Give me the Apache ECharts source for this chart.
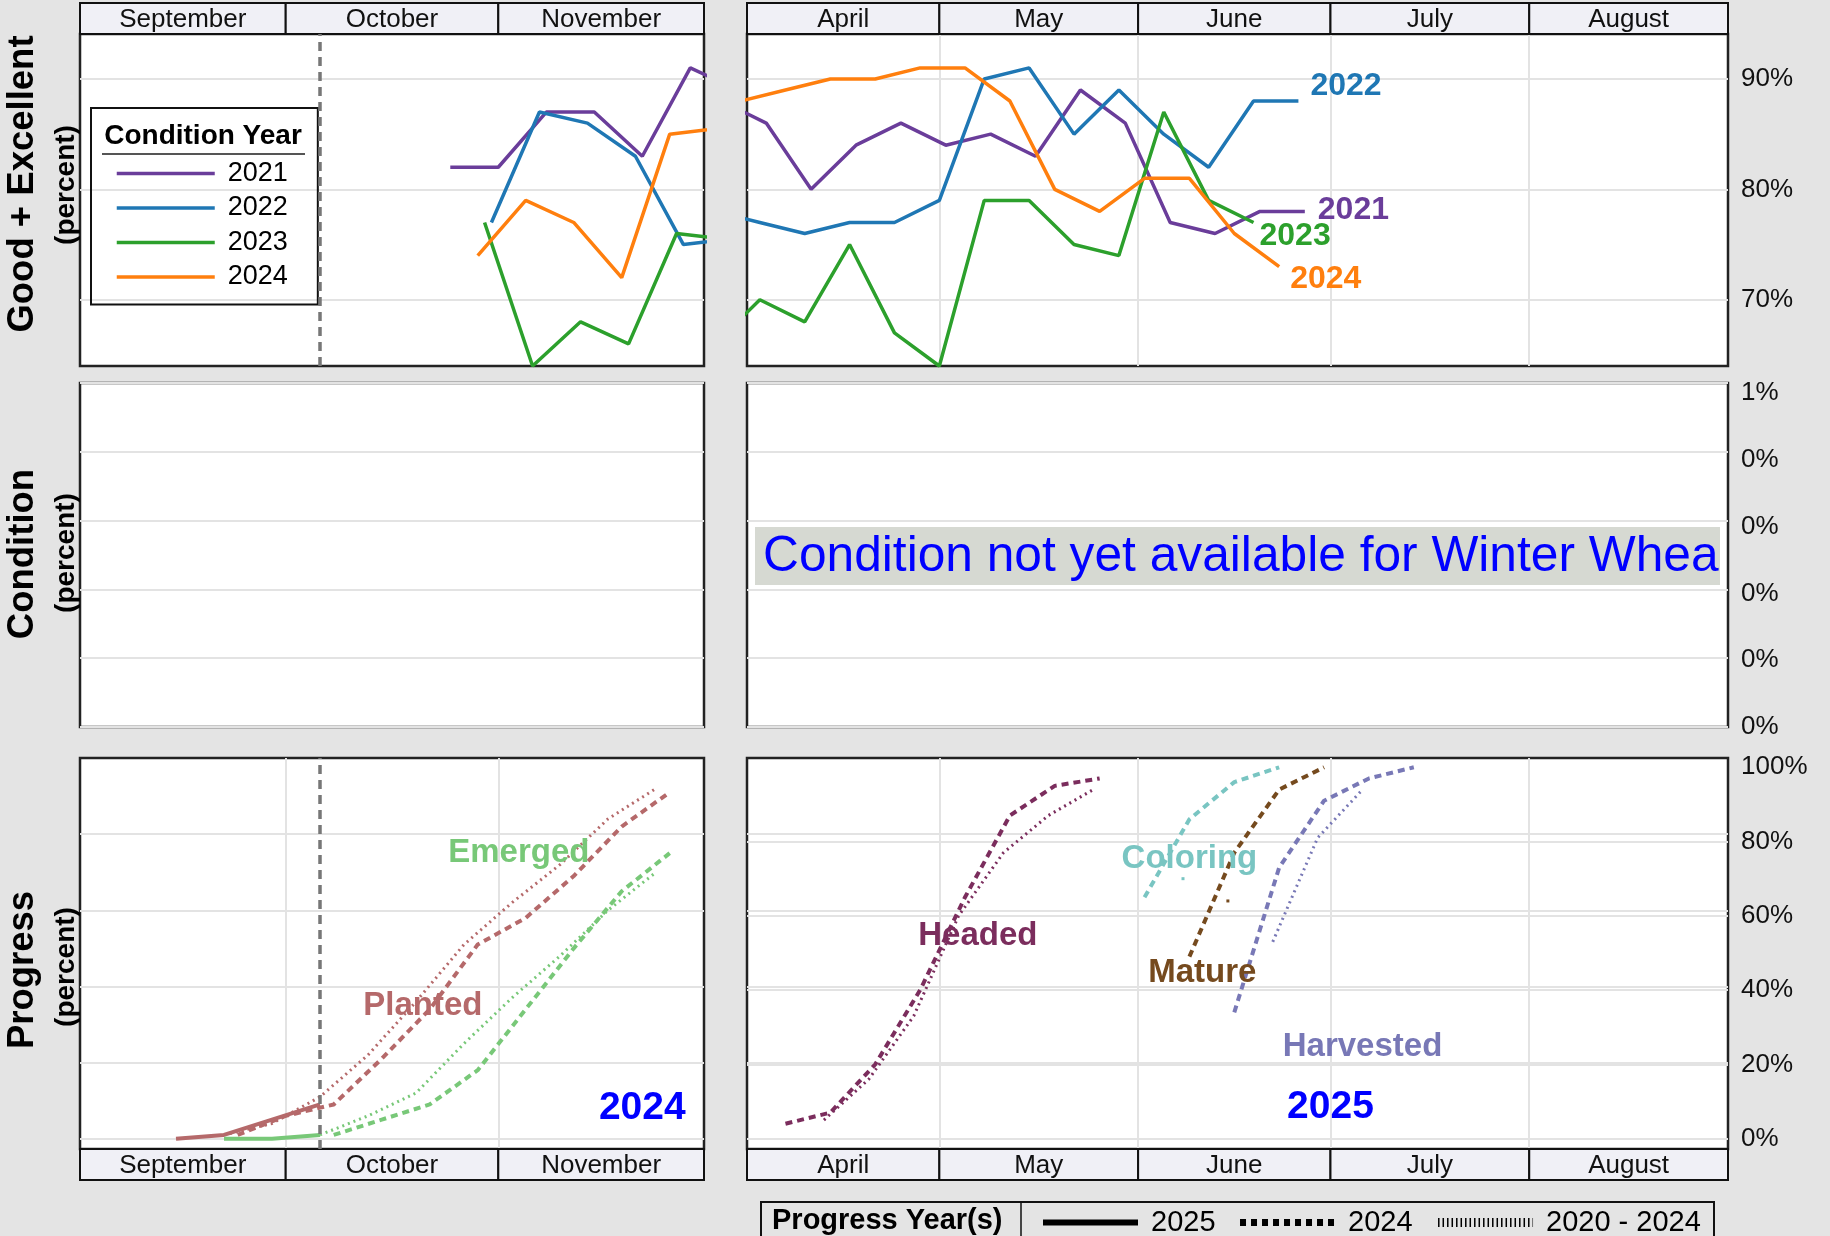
<!DOCTYPE html>
<html><head><meta charset="utf-8">
<script src="https://cdn.jsdelivr.net/npm/echarts@6/dist/echarts.min.js"></script>
<style>html,body{margin:0;padding:0;background:#e4e4e4;}#c{width:1830px;height:1236px;}</style>
</head><body><div id="c"></div>
<script>
// ---------------- DATA ----------------
const FALL_YEAR = 2024;
const SPRING_YEAR = 2025;
const fallMonths = [['09-01','10-01','September'],['10-01','11-01','October'],['11-01','12-01','November']];
const springMonths = [['04-01','05-01','April'],['05-01','06-01','May'],['06-01','07-01','June'],['07-01','08-01','July'],['08-01','09-01','August']];
const fallGridMonths = ['10-01','11-01'];
const springGridMonths = ['05-01','06-01','07-01','08-01'];
const latestWeek = '10-06';

const condYears = ['2021','2022','2023','2024'];
// Good + Excellent, fall (month-day, percent)
const geFall2021 = [['10-25',82],['11-01',82],['11-08',87],['11-15',87],['11-22',83],['11-29',91],['12-06',89]];
const geFall2022 = [['10-31',77],['11-07',87],['11-14',86],['11-21',83],['11-28',75],['12-12',76]];
const geFall2023 = [['10-30',77],['11-06',64],['11-13',68],['11-20',66],['11-27',76],['12-11',75]];
const geFall2024 = [['10-29',74],['11-05',79],['11-12',77],['11-19',72],['11-26',85],['12-10',86]];
// Good + Excellent, spring
const geSpring2021 = [['03-28',88],['04-04',86],['04-11',80],['04-18',84],['04-25',86],['05-02',84],['05-09',85],['05-16',83],['05-23',89],['05-30',86],['06-06',77],['06-13',76],['06-20',78],['06-27',78]];
const geSpring2022 = [['03-27',78],['04-03',77],['04-10',76],['04-17',77],['04-24',77],['05-01',79],['05-08',90],['05-15',91],['05-22',85],['05-29',89],['06-05',85],['06-12',82],['06-19',88],['06-26',88]];
const geSpring2023 = [['03-27',66],['04-03',70],['04-10',68],['04-17',75],['04-24',67],['05-01',64],['05-08',79],['05-15',79],['05-22',75],['05-29',74],['06-05',87],['06-12',79],['06-19',77]];
const geSpring2024 = [['03-31',88],['04-07',89],['04-14',90],['04-21',90],['04-28',91],['05-05',91],['05-12',88],['05-19',80],['05-26',78],['06-02',81],['06-09',81],['06-16',76],['06-23',73]];

const geTicks = [70, 80, 90];
const condTickLabels = ['0%','0%','0%','0%','0%','1%'];
const progTicks = [0, 20, 40, 60, 80];
const progLabelTicks = [0, 20, 40, 60, 80, 100];

// Progress, fall (2025 = solid, 2024 = dashed, 2020-2024 avg = dotted)
const planted2025 = [['09-15',0],['09-22',1],['09-29',5],['10-06',9]];
const emerged2025 = [['09-22',0],['09-29',0],['10-06',1]];
const planted2024 = [['09-24',1],['10-01',6],['10-08',9],['10-15',21],['10-22',34],['10-29',51],['11-05',58],['11-12',69],['11-19',82],['11-26',91]];
const emerged2024 = [['10-08',1],['10-15',5],['10-22',9],['10-29',18],['11-05',34],['11-12',50],['11-19',65],['11-26',75]];
const plantedAvg = [['09-22',1],['09-29',4],['10-06',11],['10-13',22],['10-20',36],['10-27',51],['11-03',62],['11-10',72],['11-17',84],['11-24',92]];
const emergedAvg = [['10-06',1],['10-13',6],['10-20',12],['10-27',25],['11-03',37],['11-10',48],['11-17',60],['11-24',70]];
// Progress, spring
const headed2024 = [['04-07',4],['04-14',7],['04-21',20],['04-28',40],['05-05',65],['05-12',87],['05-19',95],['05-26',97]];
const headedAvg = [['04-13',5],['04-20',16],['04-27',33],['05-04',60],['05-11',77],['05-18',87],['05-25',94]];
const coloring2024 = [['06-02',65],['06-09',86],['06-16',96],['06-23',100]];
const coloringAvg = [['06-08',70]];
const mature2024 = [['06-09',49],['06-16',77],['06-23',94],['06-30',100]];
const matureAvg = [['06-15',64]];
const harvested2024 = [['06-16',34],['06-23',73],['06-30',91],['07-07',97],['07-14',100]];
const harvestedAvg = [['06-22',53],['06-29',81],['07-06',94]];

const progLabelsFall = [['Emerged','11-04',75],['Planted','10-21',35],['2024','11-22',8]];
const progLabelsSpring = [['Headed','05-07',54.5],['Coloring','06-09',75.3],['Mature','06-11',44.6],['Harvested','07-06',24.6],['2025','07-01',8.5]];
const progLegend = [['p2025','2025'],['p2024','2024'],['pavg','2020 - 2024']];

// ---------------- STYLE ----------------
const FONT = 'Liberation Sans, Arial, sans-serif';
const condColors = {'2021':'#6a3d9a','2022':'#1f77b4','2023':'#2ca02c','2024':'#ff7f0e'};
const stageColors = {Planted:'#b5696a',Emerged:'#78c878',Headed:'#7b2d5d',Coloring:'#79c5c2',Mature:'#754a1e',Harvested:'#7878b6','2024':'#0000ff','2025':'#0000ff'};
const GRIDC = '#e3e3e3';
const DASH = [7,5], DOT = [2,4];

function ts(year, md){ const p = md.split('-').map(Number); return new Date(year, p[0]-1, p[1]).getTime(); }

const L = {left:80, width:624}, R = {left:747, width:981};
const T = {top:34, height:332}, M = {top:383, height:344}, B = {top:758, height:391};
const grids = [
  {...L,...T},{...R,...T},{...L,...M},{...R,...M},{...L,...B},{...R,...B},
  {...L,top:3,height:31},{...R,top:3,height:31},{...L,top:1149,height:31},{...R,top:1149,height:31}
].map((g,i)=> i<6 ? Object.assign(g,{show:true,backgroundColor:'#fff',borderColor:'#222',borderWidth:2.5}) : Object.assign(g,{show:false}));

function timeX(gi, year, mn, mx, gridMds){
  return {type:'time', gridIndex:gi, min:ts(year,mn), max:ts(year,mx),
    axisLine:{show:false}, axisLabel:{show:false},
    axisTick:{show:false, customValues: (gridMds||[]).map(m=>ts(year,m))},
    splitLine:{show:!!gridMds, lineStyle:{color:GRIDC,width:2}}};
}
const xAxis = [
  timeX(0,FALL_YEAR,'09-01','12-01',null),
  timeX(1,SPRING_YEAR,'04-01','09-01',springGridMonths),
  timeX(2,FALL_YEAR,'09-01','12-01',null),
  timeX(3,SPRING_YEAR,'04-01','09-01',null),
  timeX(4,FALL_YEAR,'09-01','12-01',fallGridMonths),
  timeX(5,SPRING_YEAR,'04-01','09-01',springGridMonths),
  timeX(6,FALL_YEAR,'09-01','12-01',null),
  timeX(7,SPRING_YEAR,'04-01','09-01',null),
  timeX(8,FALL_YEAR,'09-01','12-01',null),
  timeX(9,SPRING_YEAR,'04-01','09-01',null)
];
const lab = {fontSize:26, color:'#111', fontFamily:FONT, margin:13};
function valY(gi, mn, mx, ticks, labels, right){
  return {type:'value', gridIndex:gi, min:mn, max:mx, position:right?'right':'left',
    axisLine:{show:false},
    axisTick:{show:false, customValues:ticks},
    axisLabel: right ? Object.assign({show:true, customValues:labels, formatter:'{value}%'}, lab) : {show:false},
    splitLine:{show:true, lineStyle:{color:GRIDC,width:2}}};
}
const condY = gi=>({type:'value', gridIndex:gi, min:0, max:1, interval:0.2,
  axisLine:{show:false}, axisTick:{show:false}, axisLabel:{show:false},
  splitLine:{show:true, lineStyle:{color:GRIDC,width:2}}});
const hdrY = gi=>({type:'value', gridIndex:gi, min:0, max:1, show:false});
const yAxis = [
  valY(0,64,94.07,geTicks,geTicks,false),
  valY(1,64,94.07,geTicks,geTicks,true),
  condY(2), condY(3),
  valY(4,-2.7,100,progTicks,progTicks,false),
  valY(5,-2.8,102.5,progTicks,progLabelTicks,true),
  valY(5,-2.7,100,progTicks,progTicks,false),
  hdrY(6),hdrY(7),hdrY(8),hdrY(9),
  // label scale of the condition panel
  {type:'value', gridIndex:3, min:0, max:1.03, interval:0.2, position:'right',
   axisLine:{show:false}, axisTick:{show:false}, splitLine:{show:false},
   axisLabel:Object.assign({show:true, formatter:(v,i)=>condTickLabels[i]}, lab)}
];

const series = [];
function addLine(name, pts, year, gi, yi, color, width, type, extra){
  series.push(Object.assign({type:'line', name, xAxisIndex:gi, yAxisIndex:yi,
    data:pts.map(p=>[ts(year,p[0]),p[1]]), symbol:'none', clip:true, animation:false, silent:true,
    lineStyle:{color, width, type, cap:'butt'}, itemStyle:{color}}, extra||{}));
}
const condFall = {'2021':geFall2021,'2022':geFall2022,'2023':geFall2023,'2024':geFall2024};
const condSpring = {'2021':geSpring2021,'2022':geSpring2022,'2023':geSpring2023,'2024':geSpring2024};
const endOffsets = {'2022':[12,-15],'2021':[13,-1],'2023':[6,14],'2024':[11,13]};
condYears.forEach(y=>{
  addLine(y, condFall[y], FALL_YEAR, 0, 0, condColors[y], 3.5, 'solid');
});
condYears.forEach(y=>{
  addLine(y, condSpring[y], SPRING_YEAR, 1, 1, condColors[y], 3.5, 'solid', {
    endLabel:{show:true, formatter:y, color:condColors[y], fontSize:32, fontWeight:'bold', fontFamily:FONT, distance:0, offset:endOffsets[y]}
  });
});
// latest-week marker
const vMark = {symbol:'none', silent:true, label:{show:false}, lineStyle:{color:'#777', type:[9,6], width:3.5}, data:[{xAxis:ts(FALL_YEAR,latestWeek)}], animation:false};
series[0].markLine = vMark;

// progress fall
addLine('Planted avg', plantedAvg, FALL_YEAR, 4, 4, stageColors.Planted, 3, DOT);
addLine('Emerged avg', emergedAvg, FALL_YEAR, 4, 4, stageColors.Emerged, 3, DOT);
addLine('Planted 2024', planted2024, FALL_YEAR, 4, 4, stageColors.Planted, 4, DASH);
addLine('Emerged 2024', emerged2024, FALL_YEAR, 4, 4, stageColors.Emerged, 4, DASH);
addLine('Planted 2025', planted2025, FALL_YEAR, 4, 4, stageColors.Planted, 4, 'solid', {markLine:vMark});
addLine('Emerged 2025', emerged2025, FALL_YEAR, 4, 4, stageColors.Emerged, 4, 'solid');
// progress spring
addLine('Headed avg', headedAvg, SPRING_YEAR, 5, 5, stageColors.Headed, 3, DOT);
addLine('Headed 2024', headed2024, SPRING_YEAR, 5, 5, stageColors.Headed, 4, DASH);
addLine('Coloring avg', coloringAvg, SPRING_YEAR, 5, 5, stageColors.Coloring, 3, DOT, {symbol:'rect', symbolSize:3, showSymbol:true});
addLine('Coloring 2024', coloring2024, SPRING_YEAR, 5, 5, stageColors.Coloring, 4, DASH);
addLine('Mature avg', matureAvg, SPRING_YEAR, 5, 5, stageColors.Mature, 3, DOT, {symbol:'rect', symbolSize:3, showSymbol:true});
addLine('Mature 2024', mature2024, SPRING_YEAR, 5, 5, stageColors.Mature, 4, DASH);
addLine('Harvested avg', harvestedAvg, SPRING_YEAR, 5, 5, stageColors.Harvested, 3, DOT);
addLine('Harvested 2024', harvested2024, SPRING_YEAR, 5, 5, stageColors.Harvested, 4, DASH);

// stage labels
function labelSeries(arr, year, gi){
  series.push({type:'scatter', xAxisIndex:gi, yAxisIndex:gi, symbolSize:0, silent:true, animation:false, z:5,
    itemStyle:{opacity:1},
    data: arr.map(a=>({value:[ts(year,a[1]),a[2]], itemStyle:{opacity:1}, label:{show:true, position:'inside', formatter:a[0], color:stageColors[a[0]], opacity:1,
      fontSize: /^\d+$/.test(a[0]) ? 39 : 33, fontWeight:'bold', fontFamily:FONT}}))});
}
labelSeries(progLabelsFall, FALL_YEAR, 4);
labelSeries(progLabelsSpring, SPRING_YEAR, 5);

// month header strips
function header(months, year, gi){
  series.push({type:'custom', xAxisIndex:gi, yAxisIndex:gi+1, clip:false, silent:true, animation:false,
    data: months.map(m=>[ts(year,m[0]), ts(year,m[1])]),
    encode:{x:[0,1]},
    renderItem:(params, api)=>{
      const s = api.coord([api.value(0),1]), e = api.coord([api.value(1),0]);
      return {type:'group', children:[
        {type:'rect', shape:{x:s[0],y:s[1],width:e[0]-s[0],height:e[1]-s[1]}, style:{fill:'#f0f0f6',stroke:'#111',lineWidth:2}},
        {type:'text', style:{text:months[params.dataIndex][2], x:(s[0]+e[0])/2, y:(s[1]+e[1])/2+1, align:'center', verticalAlign:'middle', fontSize:26, fill:'#111', fontFamily:FONT}}
      ]};
    }});
}
header(fallMonths, FALL_YEAR, 6);
header(springMonths, SPRING_YEAR, 7);
header(fallMonths, FALL_YEAR, 8);
header(springMonths, SPRING_YEAR, 9);

// progress legend dummy series
const legStyles = {p2025:{width:6,type:'solid'}, p2024:{width:7,type:[6,5]}, pavg:{width:9,type:[1.5,3]}};
progLegend.forEach(p=>{
  series.push({type:'line', name:p[0], xAxisIndex:5, yAxisIndex:5, data:[], symbol:'none', silent:true,
    lineStyle:Object.assign({color:'#000', cap:'butt'}, legStyles[p[0]]), itemStyle:{color:'#000'}});
});
const progLegendMap = Object.fromEntries(progLegend);

function vText(text, x, y, size){
  return {type:'text', z:100, x, y, rotation:Math.PI/2, style:{text, align:'center', verticalAlign:'middle', fontSize:size, fontWeight:'bold', fill:'#000', fontFamily:FONT}};
}
const noSymbol = {opacity:0, color:'rgba(0,0,0,0)', borderColor:'rgba(0,0,0,0)', borderWidth:0};

const option = {
  backgroundColor:'#e4e4e4',
  animation:false,
  textStyle:{fontFamily:FONT},
  grid: grids, xAxis, yAxis, series,
  legend:[
    {data:condYears.map(y=>({name:y, lineStyle:{width:3.5, color:condColors[y]}})), orient:'vertical', left:91, top:108, padding:[52,30,14,24], itemWidth:98, itemHeight:20, itemGap:7.5,
     borderColor:'#111', borderWidth:2, selectedMode:false, itemStyle:noSymbol, lineStyle:{width:3.5},
     textStyle:{fontSize:27, color:'#000', fontFamily:FONT, padding:[0,0,0,8]}},
    {data:progLegend.map(p=>({name:p[0], lineStyle:Object.assign({color:'#000', cap:'butt'}, legStyles[p[0]])})), orient:'horizontal', left:1040, top:1208, padding:0, itemWidth:95, itemHeight:20, itemGap:21, selectedMode:false,
     formatter:n=>progLegendMap[n], itemStyle:noSymbol,
     textStyle:{fontSize:29, color:'#000', fontFamily:FONT, padding:[0,0,0,8]}}
  ],
  graphic:[
    vText('Good + Excellent', 23, 184, 36.5), vText('(percent)', 66, 185, 28),
    vText('Condition', 23, 554, 36.5), vText('(percent)', 66, 553, 28),
    vText('Progress', 23, 970, 36.5), vText('(percent)', 66, 967, 28),
    {type:'text', z:100, x:203, y:136, style:{text:'Condition Year', align:'center', verticalAlign:'middle', fontSize:28, fontWeight:'bold', fill:'#000', fontFamily:FONT}},
    {type:'line', z:100, shape:{x1:102,y1:154,x2:305,y2:154}, style:{stroke:'#555', lineWidth:2}},
    {type:'rect', z:100, shape:{x:755,y:527,width:965,height:58}, style:{fill:'#d6d9d2'}},
    {type:'text', z:101, x:763, y:557, style:{text:'Condition not yet available for Winter Wheat', verticalAlign:'middle', fontSize:49.7, fill:'#0000ff', fontFamily:FONT, width:960, overflow:'truncate', ellipsis:''}},
    {type:'rect', z:100, shape:{x:761,y:1202,width:953,height:40}, style:{fill:'none', stroke:'#111', lineWidth:2}},
    {type:'line', z:100, shape:{x1:1021,y1:1202,x2:1021,y2:1240}, style:{stroke:'#111', lineWidth:1.5}},
    {type:'text', z:100, x:772, y:1221, style:{text:'Progress Year(s)', verticalAlign:'middle', fontSize:29, fontWeight:'bold', fill:'#000', fontFamily:FONT}}
  ]
};
const chart = echarts.init(document.getElementById('c'), null, {renderer:'canvas'});
chart.setOption(option);
</script></body></html>
